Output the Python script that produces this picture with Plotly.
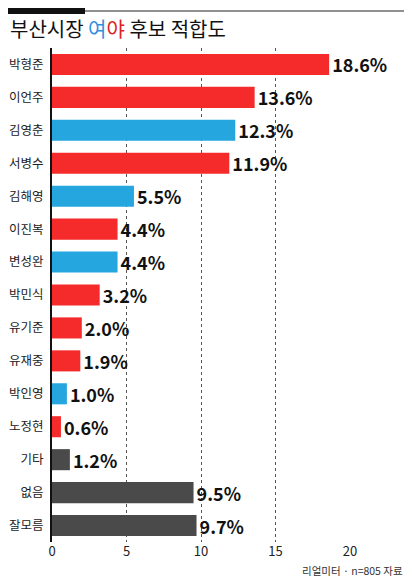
import plotly.graph_objects as go

names = ["박형준","이언주","김영춘","서병수","김해영","이진복","변성완","박민식","유기준","유재중","박인영","노정현","기타","없음","잘모름"]
values = [18.6,13.6,12.3,11.9,5.5,4.4,4.4,3.2,2.0,1.9,1.0,0.6,1.2,9.5,9.7]
groups = ["r","r","b","r","b","r","b","r","r","r","b","r","g","g","g"]
cmap = {"r":"#f52a2a","b":"#25a6df","g":"#4a4a4a"}
colors = [cmap[g] for g in groups]
texts = [f"{v:.1f}%" for v in values]

L, R, T, B = 44, 62, 40, 36
PW, PH = 298, 494
fig = go.Figure(go.Bar(
    x=values, y=names, orientation="h", marker=dict(color=colors, line=dict(width=0)),
    text=texts, textposition="outside", cliponaxis=False, constraintext="none",
    textfont=dict(family="Noto Sans CJK KR", size=18, color="#111", weight="bold"),
    width=0.64))
fig.update_layout(
    width=L+PW+R, height=T+PH+B, margin=dict(l=L, r=R, t=T, b=B),
    plot_bgcolor="white", paper_bgcolor="white", showlegend=False,
    font=dict(family="Noto Sans CJK KR", color="#222"),
    xaxis=dict(range=[0,20], tickvals=[0,5,10,15,20], showgrid=True,
               gridcolor="#555", griddash="dot", gridwidth=1, zeroline=False,
               tickfont=dict(size=13), ticks="", showline=False, automargin=False),
    yaxis=dict(autorange="reversed", tickfont=dict(size=12.5), ticks="", automargin=False,
               showline=True, linecolor="#111", linewidth=2, ticklabelstandoff=4),
    shapes=[
        dict(type="line", xref="paper", yref="paper", x0=-L/PW, x1=1+R/PW, y0=1+37/PH, y1=1+37/PH, line=dict(color="#222", width=1)),
        dict(type="rect", xref="paper", yref="paper", x0=-L/PW, x1=(77-L)/PW, y0=1+34/PH, y1=1+40/PH, fillcolor="#111", line=dict(width=0)),
    ],
    annotations=[
        dict(text="부산시장 <span style='color:#2f8fe0'>여</span><span style='color:#e02020'>야</span> 후보 적합도",
             xref="paper", yref="paper", x=-L/PW, y=1+19/PH, xanchor="left", yanchor="middle",
             showarrow=False, font=dict(size=20, color="#111")),
        dict(text="리얼미터 · n=805 자료", xref="paper", yref="paper", x=1+55/PW, y=-28/PH,
             xanchor="right", yanchor="middle", showarrow=False, font=dict(size=10.5, color="#333")),
    ],
)
fig.write_html("out.html")
